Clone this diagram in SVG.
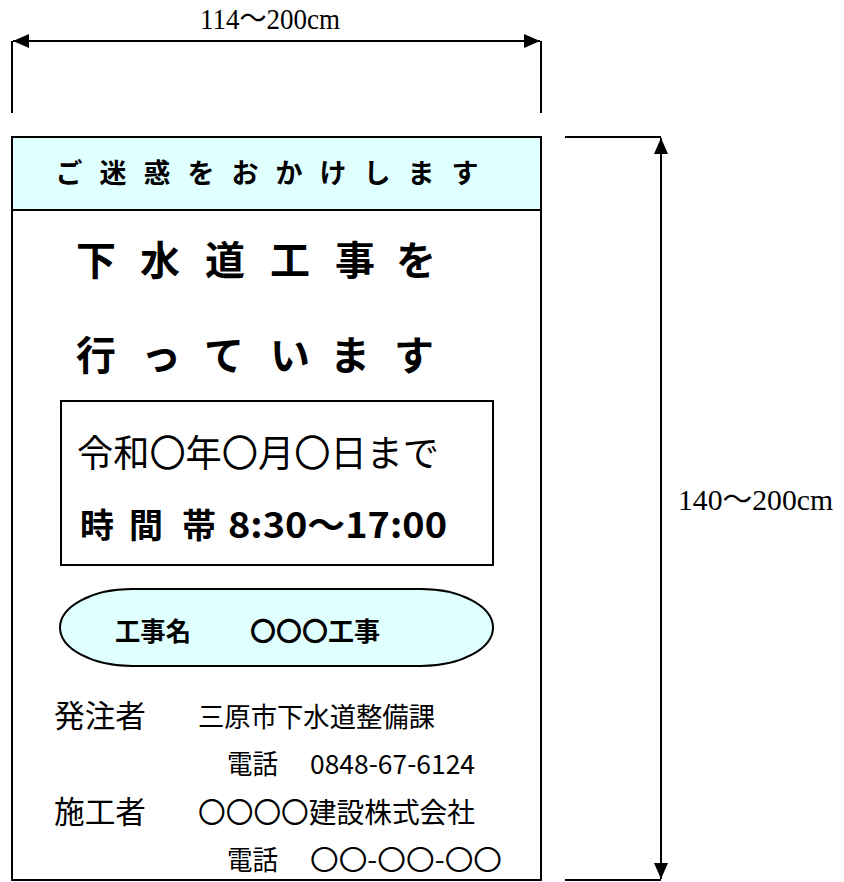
<svg xmlns="http://www.w3.org/2000/svg" width="844" height="882" viewBox="0 0 844 882">
<style>
.jp{font-family:"Noto Sans CJK JP","Noto Sans CJK SC",sans-serif;fill:#000}
.b{font-weight:bold}
.dim{font-family:"Liberation Serif","Noto Sans CJK JP",serif;font-size:29px;fill:#000}
.ln{stroke:#000;stroke-width:2;fill:none}
.thin{stroke:#000;stroke-width:2;fill:none}
.cyan{fill:#E0FFFF;stroke:#000;stroke-width:2}
</style>
<defs>
<marker id="ah" markerUnits="userSpaceOnUse" viewBox="0 0 16 14" refX="16" refY="7" markerWidth="16" markerHeight="14" orient="auto-start-reverse">
<path d="M0,0 L16,7 L0,14 z" fill="#000"/>
</marker>
</defs>
<rect width="844" height="882" fill="#fff"/>

<g id="connectors">
<line class="thin" x1="12" y1="41" x2="12" y2="113"/>
<line class="thin" x1="541" y1="41" x2="541" y2="113"/>
<line class="thin" x1="13" y1="41" x2="540" y2="41" marker-start="url(#ah)" marker-end="url(#ah)"/>
<line class="thin" x1="565" y1="137" x2="661" y2="137"/>
<line class="thin" x1="565" y1="880" x2="661" y2="880"/>
<line class="thin" x1="661" y1="138" x2="661" y2="879" marker-start="url(#ah)" marker-end="url(#ah)"/>
</g>

<g id="dim-width">
<text class="dim" x="200" y="29" textLength="140" lengthAdjust="spacingAndGlyphs">114～200cm</text>
</g>
<g id="dim-height">
<text class="dim" x="678" y="510" textLength="155" lengthAdjust="spacingAndGlyphs">140～200cm</text>
</g>

<g id="sign">
<rect class="ln" x="12" y="137" width="529" height="743"/>
</g>

<g id="header">
<rect class="cyan" x="12" y="137" width="529" height="73"/>
<text class="jp b" font-size="27" y="183" text-anchor="middle"><tspan x="69">ご</tspan><tspan x="113">迷</tspan><tspan x="157">惑</tspan><tspan x="201">を</tspan><tspan x="245">お</tspan><tspan x="289">か</tspan><tspan x="333">け</tspan><tspan x="377">し</tspan><tspan x="421">ま</tspan><tspan x="465">す</tspan></text>
</g>

<g id="title">
<text class="jp b" font-size="40" y="275" text-anchor="middle"><tspan x="96">下</tspan><tspan x="160">水</tspan><tspan x="225">道</tspan><tspan x="290">工</tspan><tspan x="355">事</tspan><tspan x="416">を</tspan></text>
<text class="jp b" font-size="40" y="370" text-anchor="middle"><tspan x="96">行</tspan><tspan x="161">っ</tspan><tspan x="224">て</tspan><tspan x="290">い</tspan><tspan x="350">ま</tspan><tspan x="414">す</tspan></text>
</g>

<g id="period-box">
<rect class="ln" x="61" y="401" width="432" height="164"/>
<text class="jp" font-size="37" x="77" y="467" textLength="362" lengthAdjust="spacingAndGlyphs">令和〇年〇月〇日まで</text>
<text class="jp b" font-size="34" y="538" text-anchor="middle"><tspan x="97">時</tspan><tspan x="146">間</tspan><tspan x="199">帯</tspan></text>
<text class="jp b" font-size="35" x="228" y="538" textLength="219" lengthAdjust="spacingAndGlyphs">8:30～17:00</text>
</g>

<g id="project-name">
<rect class="cyan" x="60" y="589" width="433" height="77" rx="72" ry="38.5" stroke-width="1.6"/>
<text class="jp b" font-size="26" x="115" y="641" textLength="76" lengthAdjust="spacingAndGlyphs">工事名</text>
<text class="jp b" font-size="26" x="250" y="641" textLength="130" lengthAdjust="spacingAndGlyphs">〇〇〇工事</text>
</g>

<g id="orderer">
<text class="jp" font-size="31" x="54" y="727" textLength="92" lengthAdjust="spacingAndGlyphs">発注者</text>
<text class="jp" font-size="27" x="198" y="727" textLength="237" lengthAdjust="spacingAndGlyphs">三原市下水道整備課</text>
<text class="jp" font-size="27" x="227" y="774" textLength="51" lengthAdjust="spacingAndGlyphs">電話</text>
<text class="jp" font-size="27" x="310" y="774" textLength="165" lengthAdjust="spacingAndGlyphs">0848-67-6124</text>
</g>

<g id="contractor">
<text class="jp" font-size="31" x="54" y="823" textLength="92" lengthAdjust="spacingAndGlyphs">施工者</text>
<text class="jp" font-size="28" x="198" y="823" textLength="277" lengthAdjust="spacingAndGlyphs">〇〇〇〇建設株式会社</text>
<text class="jp" font-size="27" x="227" y="870" textLength="51" lengthAdjust="spacingAndGlyphs">電話</text>
<text class="jp" font-size="27" x="310" y="870" textLength="192" lengthAdjust="spacingAndGlyphs">〇〇-〇〇-〇〇</text>
</g>
</svg>
